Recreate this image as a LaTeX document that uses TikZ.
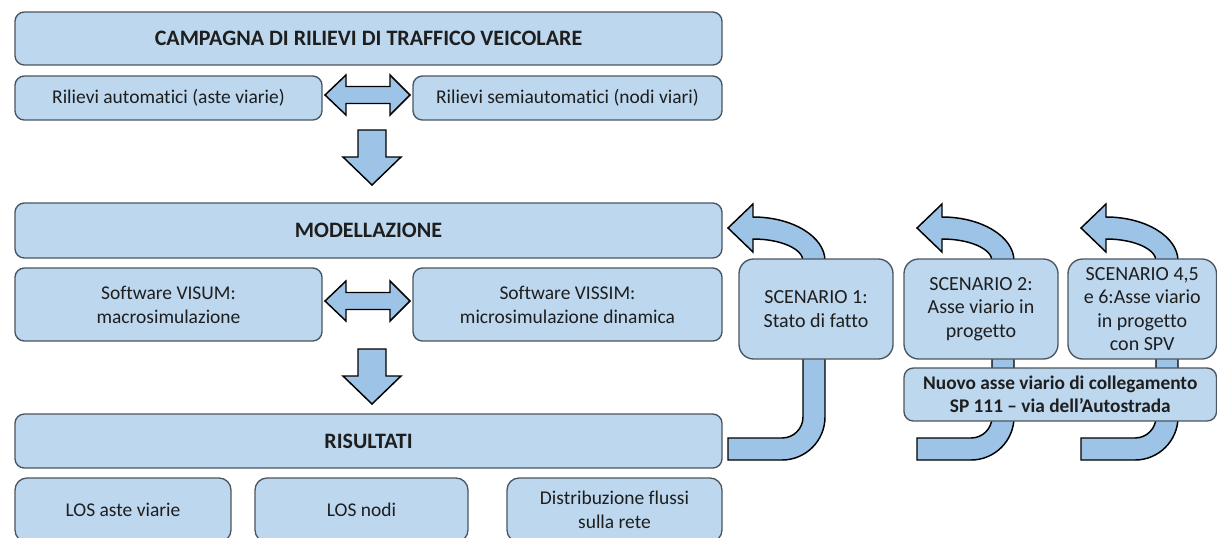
\documentclass[tikz,border=0pt]{standalone}
\usepackage{fontspec}
\setmainfont{Carlito}[Ligatures={NoCommon}]
\usetikzlibrary{fit}
\definecolor{boxfill}{HTML}{BDD7EE}
\definecolor{boxline}{HTML}{4A5560}
\definecolor{arrfill}{HTML}{9DC3E6}
\definecolor{txt}{HTML}{1E1E1E}
\tikzset{
  box/.style={draw=boxline, line width=1pt, fill=boxfill, rounded corners=7pt, inner sep=0pt},
  scenshape/.style={box, rounded corners=11pt},
  lbl/.style={inner sep=0pt, text=txt, align=center},
  titletext/.style={lbl, font=\fontsize{16.5}{20}\bfseries},
  subtext/.style={lbl, font=\fontsize{14.6}{18}\selectfont},
  scentext/.style={lbl, font=\fontsize{15}{17.6}\selectfont},
  nuovotext/.style={lbl, font=\fontsize{14.5}{17.3}\bfseries},
  blockarrow/.style={draw=black, line width=1.1pt, fill=arrfill, line join=miter},
}
% \labelbox[shape style]{text style}{name}{x1,y1}{x2,y2}{text}
\newcommand\labelbox[6][box]{%
  \node[#1, fit={(#4) (#5)}] (#3) {};
  \node[#2] (#3-t) at (#3.center) {#6};}
\newcommand\uturnarrow[2]{%
  \draw[blockarrow, shift={(#1,0)}] (0,228) coordinate (#2) -- (25,204) -- (25,217)
    .. controls (64.7,217) and (97,236.7) .. (97,261) -- (97,417)
    .. controls (97,440.7) and (77.7,460) .. (54,460) -- (0,460) -- (0,438) -- (54,438)
    .. controls (65.6,438) and (75,428.6) .. (75,417) -- (75,261)
    .. controls (75,248.9) and (52.6,239) .. (25,239) -- (25,252) -- cycle;}
\newcommand\dblarrow[1]{%
  \draw[blockarrow, shift={(0,#1)}] (325,0) -- (346,-20) -- (346,-8.5) -- (390,-8.5) -- (390,-20)
    -- (410,0) -- (390,20) -- (390,8.5) -- (346,8.5) -- (346,20) -- cycle;}
\newcommand\blockdown[1]{%
  \draw[blockarrow, shift={(0,#1)}] (358,0) -- (386,0) -- (386,27) -- (401,27) -- (372,55)
    -- (343,27) -- (358,27) -- cycle;}
\begin{document}
\begin{tikzpicture}[x=0.75pt,y=-0.75pt]
\useasboundingbox (0,0) rectangle (1217,537);
\fill[white] (0,0) rectangle (1217,537);

% left column
\labelbox{titletext}{campagna}{15,12}{722,65}{CAMPAGNA DI RILIEVI DI TRAFFICO VEICOLARE}
\labelbox{subtext}{rauto}{15,76}{322,120}{Rilievi automatici (aste viarie)}
\labelbox{subtext}{rsemi}{413,76}{722,120}{Rilievi semiautomatici (nodi viari)}
\dblarrow{95}
\blockdown{130}

\labelbox{titletext}{model}{15,203}{722,258}{MODELLAZIONE}
\labelbox{subtext}{visum}{15,268}{322,341}{Software VISUM:\\macrosimulazione}
\labelbox{subtext}{vissim}{413,268}{722,341}{Software VISSIM:\\microsimulazione dinamica}
\dblarrow{301}
\blockdown{349}

\labelbox{titletext}{risultati}{15,414}{722,468}{RISULTATI}
\labelbox[box, rounded corners=9pt]{subtext}{losaste}{15,478}{231,542}{LOS aste viarie}
\labelbox[box, rounded corners=9pt]{subtext}{losnodi}{255,478}{468,542}{LOS nodi}
\labelbox[box, rounded corners=9pt]{subtext}{distr}{507,478}{722,542}{Distribuzione flussi\\sulla rete}

% right side
\uturnarrow{728}{u1}
\uturnarrow{917}{u2}
\uturnarrow{1081}{u3}
\labelbox[scenshape]{scentext}{s1}{739,259}{893,359}{SCENARIO 1:\\Stato di fatto}
\labelbox[scenshape]{scentext}{s2}{904,259}{1058,359}{SCENARIO 2:\\Asse viario in\\progetto}
\labelbox[scenshape]{scentext}{s3}{1068,259}{1216.5,359}{SCENARIO 4,5\\e 6:Asse viario\\in progetto\\con SPV}
\labelbox{nuovotext}{nuovo}{904,368}{1216.5,421}{Nuovo asse viario di collegamento\\SP 111 – via dell’Autostrada}
\end{tikzpicture}
\end{document}
